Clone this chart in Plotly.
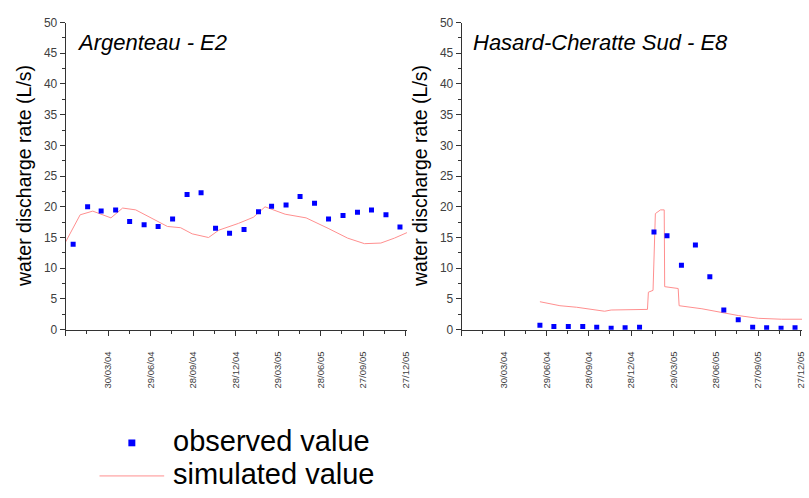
import pandas as pd
import plotly.graph_objects as go

# ---------------- data ----------------
obs_dates_A = ["2004-01-15", "2004-02-15", "2004-03-15", "2004-04-15", "2004-05-15", "2004-06-15",
               "2004-07-15", "2004-08-15", "2004-09-15", "2004-10-15", "2004-11-15", "2004-12-15",
               "2005-01-15", "2005-02-15", "2005-03-15", "2005-04-15", "2005-05-15", "2005-06-15",
               "2005-07-15", "2005-08-15", "2005-09-15", "2005-10-15", "2005-11-15", "2005-12-15"]
obs_A = [13.9, 20.0, 19.3, 19.5, 17.6, 17.1, 16.8, 18.0, 22.0, 22.3, 16.5, 15.7,
         16.3, 19.2, 20.1, 20.3, 21.7, 20.6, 18.0, 18.6, 19.1, 19.5, 18.7, 16.7]

sim_dates_A = ["2003-12-30", "2004-01-30", "2004-02-26", "2004-04-05", "2004-04-30", "2004-05-28",
               "2004-08-04", "2004-09-01", "2004-09-26", "2004-10-31", "2004-11-22", "2005-01-03",
               "2005-02-04", "2005-03-01", "2005-04-13", "2005-05-28", "2005-07-14", "2005-08-25",
               "2005-09-30", "2005-11-04", "2005-12-03", "2005-12-30"]
sim_A = [14.3, 18.7, 19.3, 18.2, 19.8, 19.5, 16.8, 16.6, 15.6, 15.0, 16.2, 17.3,
         18.3, 20.0, 18.8, 18.2, 16.5, 14.9, 14.0, 14.1, 14.9, 15.8]

obs_dates_H = ["2004-06-15", "2004-07-15", "2004-08-15", "2004-09-15", "2004-10-15", "2004-11-15",
               "2004-12-15", "2005-01-15", "2005-02-15", "2005-03-15", "2005-04-15", "2005-05-15",
               "2005-06-15", "2005-07-15", "2005-08-15", "2005-09-15", "2005-10-15", "2005-11-15",
               "2005-12-15"]
obs_H = [0.7, 0.5, 0.5, 0.5, 0.4, 0.25, 0.3, 0.4, 15.9, 15.3, 10.5, 13.8,
         8.6, 3.2, 1.6, 0.4, 0.3, 0.25, 0.3]

sim_dates_H = ["2004-06-15", "2004-07-28", "2004-09-02", "2004-09-30", "2004-11-01", "2004-11-15",
               "2005-01-07", "2005-02-01", "2005-02-03", "2005-02-13", "2005-02-18", "2005-03-01",
               "2005-03-09", "2005-03-10", "2005-04-08", "2005-04-10", "2005-05-29", "2005-06-27",
               "2005-08-15", "2005-09-27", "2005-11-16", "2005-12-30"]
sim_H = [4.55, 3.9, 3.65, 3.3, 3.0, 3.2, 3.2, 3.3, 6.1, 6.4, 18.9, 19.5,
         19.5, 7.0, 6.7, 3.9, 3.4, 2.95, 2.3, 1.85, 1.7, 1.7]

tick_dates = ["2003-12-30", "2004-03-30", "2004-06-29", "2004-09-28", "2004-12-28",
              "2005-03-29", "2005-06-28", "2005-09-27", "2005-12-27"]
tick_labels = ["", "30/03/04", "29/06/04", "28/09/04", "28/12/04",
               "29/03/05", "28/06/05", "27/09/05", "27/12/05"]

panel_titles = ["Argenteau - E2", "Hasard-Cheratte Sud - E8"]
y_title = "water discharge rate (L/s)"
legend_labels = ["observed value", "simulated value"]

# ---------------- styling ----------------
W, H = 809, 498
FONT = "Arial, Liberation Sans, sans-serif"
OBS_COLOR = "#0000ff"
SIM_COLOR = "#ff8f8f"
AXIS_COLOR = "#333333"
TICK_FONT_COLOR = "#404040"

td = pd.to_datetime(tick_dates)
minor_vals = [(td[i] + (td[i + 1] - td[i]) / 2).strftime("%Y-%m-%d") for i in range(len(td) - 1)]


def px(x):
    return x / W


def py(y):
    return 1 - y / H


fig = go.Figure()

for i, (od, ov, sd, sv) in enumerate([(obs_dates_A, obs_A, sim_dates_A, sim_A),
                                       (obs_dates_H, obs_H, sim_dates_H, sim_H)]):
    xa = "x" if i == 0 else "x2"
    ya = "y" if i == 0 else "y2"
    fig.add_trace(go.Scatter(x=sd, y=sv, mode="lines", xaxis=xa, yaxis=ya,
                             line=dict(color=SIM_COLOR, width=1), showlegend=False,
                             name=legend_labels[1]))
    fig.add_trace(go.Scatter(x=od, y=ov, mode="markers", xaxis=xa, yaxis=ya,
                             marker=dict(symbol="square", size=5, color=OBS_COLOR, line=dict(width=0)),
                             showlegend=False, name=legend_labels[0]))

xaxis_common = dict(
    type="date", range=["2003-12-30", "2005-12-30"],
    tickmode="array", tickvals=tick_dates, ticktext=tick_labels,
    tickangle=-90, ticks="outside", ticklen=5, tickwidth=1, tickcolor=AXIS_COLOR,
    minor=dict(tickmode="array", tickvals=minor_vals, ticks="outside", ticklen=3,
               tickcolor=AXIS_COLOR, tickwidth=1),
    showline=True, linecolor=AXIS_COLOR, linewidth=1, showgrid=False, zeroline=False,
    tickfont=dict(family=FONT, size=9.5, color=TICK_FONT_COLOR),
    ticklabelstandoff=12,
)
yaxis_common = dict(
    range=[0, 50], tickmode="linear", tick0=0, dtick=5,
    ticks="outside", ticklen=5, tickwidth=1, tickcolor=AXIS_COLOR,
    minor=dict(dtick=2.5, ticks="outside", ticklen=3, tickcolor=AXIS_COLOR, tickwidth=1),
    showline=True, linecolor=AXIS_COLOR, linewidth=1, showgrid=False, zeroline=False,
    tickfont=dict(family=FONT, size=12, color=TICK_FONT_COLOR),
)

fig.update_layout(
    width=W, height=H,
    margin=dict(l=0, r=0, t=0, b=0),
    paper_bgcolor="white", plot_bgcolor="white",
    showlegend=False,
    xaxis=dict(domain=[px(66), px(409)], anchor="y", **xaxis_common),
    yaxis=dict(domain=[py(332), py(16)], anchor="x", **yaxis_common),
    xaxis2=dict(domain=[px(464), px(806)], anchor="y2", **xaxis_common),
    yaxis2=dict(domain=[py(332), py(16)], anchor="x2", **yaxis_common),
)

annotations = []
# panel titles
for title, x0 in zip(panel_titles, [75, 473]):
    annotations.append(dict(text="<i>%s</i>" % title, x=px(x0), y=py(37), xref="paper", yref="paper",
                            xanchor="left", yanchor="middle", showarrow=False,
                            font=dict(family=FONT, size=22, color="black")))
# y axis titles
for xc in [24, 422]:
    annotations.append(dict(text=y_title, x=px(xc), y=py(174), xref="paper", yref="paper",
                            xanchor="center", yanchor="middle", textangle=-90, showarrow=False,
                            font=dict(family=FONT, size=19.5, color="black")))
# legend labels
for lab, yc in zip(legend_labels, [447, 480.5]):
    annotations.append(dict(text=lab, x=px(172), y=py(yc), xref="paper", yref="paper",
                            xanchor="left", yanchor="middle", showarrow=False,
                            font=dict(family=FONT, size=29, color="black")))
fig.update_layout(annotations=annotations)

# legend symbols
shapes = [
    dict(type="rect", xref="paper", yref="paper",
         x0=px(129), x1=px(136), y0=py(452), y1=py(445),
         fillcolor=OBS_COLOR, line=dict(width=0)),
    dict(type="line", xref="paper", yref="paper",
         x0=px(100), x1=px(165), y0=py(482.5), y1=py(482.5),
         line=dict(color=SIM_COLOR, width=1)),
]
fig.update_layout(shapes=shapes)

fig.write_html(
    "out.html",
    config={"displayModeBar": False},
    post_script=("document.documentElement.style.margin='0';"
                 "document.documentElement.style.overflow='hidden';"
                 "document.body.style.margin='0';document.body.style.padding='0';"
                 "document.body.style.overflow='hidden';"),
)
